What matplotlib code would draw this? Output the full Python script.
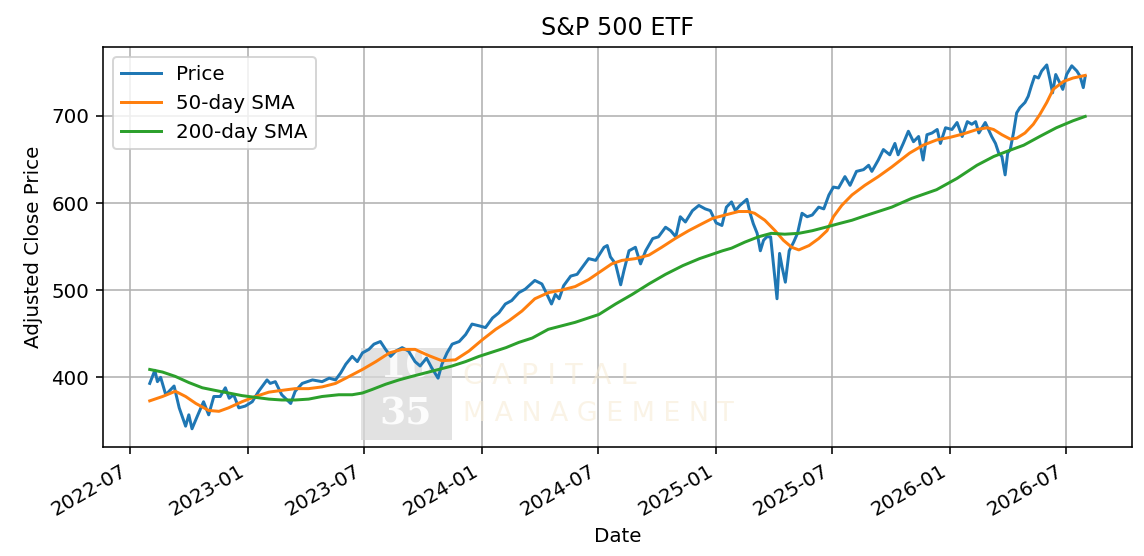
import matplotlib
matplotlib.use("Agg")
import matplotlib.pyplot as plt
import matplotlib.dates as mdates
import pandas as pd

# price (roughly every 1-2 weeks, extremes kept)
price_dates = [
    "2022-08-01", "2022-08-09", "2022-08-13", "2022-08-18", "2022-08-26", "2022-09-08",
    "2022-09-16", "2022-09-26", "2022-10-01", "2022-10-06", "2022-10-14", "2022-10-24",
    "2022-11-01", "2022-11-09", "2022-11-19", "2022-11-27", "2022-12-03", "2022-12-10",
    "2022-12-18", "2022-12-28", "2023-01-08", "2023-01-18", "2023-01-31", "2023-02-05",
    "2023-02-13", "2023-02-23", "2023-03-09", "2023-03-16", "2023-03-27", "2023-04-12",
    "2023-04-27", "2023-05-08", "2023-05-18", "2023-05-26", "2023-06-03", "2023-06-13",
    "2023-06-21", "2023-06-29", "2023-07-09", "2023-07-17", "2023-07-27", "2023-08-04",
    "2023-08-12", "2023-08-20", "2023-08-30", "2023-09-09", "2023-09-19", "2023-09-27",
    "2023-10-07", "2023-10-15", "2023-10-25", "2023-10-31", "2023-11-08", "2023-11-16",
    "2023-11-27", "2023-12-07", "2023-12-17", "2023-12-28", "2024-01-07", "2024-01-18",
    "2024-01-28", "2024-02-07", "2024-02-17", "2024-02-28", "2024-03-09", "2024-03-24",
    "2024-04-04", "2024-04-12", "2024-04-19", "2024-04-25", "2024-05-01", "2024-05-08",
    "2024-05-19", "2024-05-29", "2024-06-06", "2024-06-16", "2024-06-27", "2024-07-10",
    "2024-07-15", "2024-07-20", "2024-07-28", "2024-08-05", "2024-08-10", "2024-08-18",
    "2024-08-28", "2024-09-05", "2024-09-13", "2024-09-24", "2024-10-03", "2024-10-14",
    "2024-10-22", "2024-10-30", "2024-11-06", "2024-11-14", "2024-11-25", "2024-12-05",
    "2024-12-15", "2024-12-23", "2025-01-01", "2025-01-10", "2025-01-17", "2025-01-25",
    "2025-01-31", "2025-02-07", "2025-02-18", "2025-02-23", "2025-02-28", "2025-03-06",
    "2025-03-11", "2025-03-16", "2025-03-21", "2025-03-27", "2025-04-01", "2025-04-06",
    "2025-04-10", "2025-04-14", "2025-04-19", "2025-04-25", "2025-05-02", "2025-05-08",
    "2025-05-15", "2025-05-23", "2025-05-31", "2025-06-10", "2025-06-18", "2025-06-26",
    "2025-07-03", "2025-07-11", "2025-07-21", "2025-07-29", "2025-08-08", "2025-08-19",
    "2025-08-27", "2025-09-01", "2025-09-11", "2025-09-19", "2025-09-29", "2025-10-07",
    "2025-10-12", "2025-10-20", "2025-10-28", "2025-11-05", "2025-11-13", "2025-11-20",
    "2025-11-26", "2025-12-04", "2025-12-12", "2025-12-17", "2025-12-25", "2026-01-04",
    "2026-01-12", "2026-01-20", "2026-01-28", "2026-02-04", "2026-02-10", "2026-02-15",
    "2026-02-20", "2026-02-25", "2026-03-02", "2026-03-07", "2026-03-13", "2026-03-18",
    "2026-03-23", "2026-03-28", "2026-04-01", "2026-04-05", "2026-04-10", "2026-04-15",
    "2026-04-20", "2026-04-28", "2026-05-03", "2026-05-08", "2026-05-13", "2026-05-19",
    "2026-05-24", "2026-06-01", "2026-06-06", "2026-06-10", "2026-06-15", "2026-06-21",
    "2026-06-26", "2026-07-02", "2026-07-10", "2026-07-18", "2026-07-23", "2026-07-28",
    "2026-07-31",
]
price_values = [
    393, 408, 395, 400, 380, 390,
    365, 344, 357, 341, 355, 372,
    357, 378, 378, 388, 376, 380,
    365, 367, 372, 384, 397, 393,
    395, 380, 370, 384, 393, 397,
    395, 399, 397, 405, 415, 424,
    418, 428, 432, 438, 441, 432,
    424, 430, 434, 430, 418, 413,
    422, 411, 399, 415, 428, 438,
    441, 449, 461, 459, 457, 468,
    474, 484, 488, 497, 501, 511,
    507, 495, 484, 495, 490, 505,
    516, 518, 526, 536, 534, 549,
    551, 538, 530, 506, 522, 545,
    549, 530, 545, 559, 561, 572,
    568, 561, 584, 578, 591, 597,
    593, 591, 577, 574, 595, 601,
    591, 597, 604, 588, 576, 565,
    545, 557, 561, 561, 526, 490,
    542, 526, 509, 545, 555, 565,
    588, 584, 586, 595, 593, 609,
    618, 617, 630, 620, 636, 638,
    643, 636, 649, 661, 655, 668,
    655, 668, 682, 670, 676, 649,
    678, 680, 684, 668, 686, 684,
    692, 676, 693, 690, 693, 680,
    686, 692, 684, 676, 668, 657,
    653, 632, 657, 661, 680, 703,
    709, 715, 722, 734, 745, 743,
    751, 758, 741, 726, 747, 738,
    730, 747, 757, 751, 745, 732,
    745,
]

sma50_dates = [
    "2022-08-01", "2022-08-21", "2022-09-10", "2022-09-26", "2022-10-12", "2022-11-01",
    "2022-11-17", "2022-12-02", "2022-12-23", "2023-01-13", "2023-02-03", "2023-02-23",
    "2023-03-16", "2023-04-06", "2023-04-27", "2023-05-18", "2023-06-03", "2023-06-29",
    "2023-07-20", "2023-08-10", "2023-08-30", "2023-09-19", "2023-10-10", "2023-10-31",
    "2023-11-21", "2023-12-12", "2024-01-02", "2024-01-23", "2024-02-13", "2024-03-04",
    "2024-03-24", "2024-04-14", "2024-05-05", "2024-05-26", "2024-06-16", "2024-07-06",
    "2024-07-22", "2024-08-07", "2024-08-28", "2024-09-18", "2024-10-08", "2024-10-29",
    "2024-11-19", "2024-12-10", "2024-12-26", "2025-01-15", "2025-02-05", "2025-02-20",
    "2025-03-02", "2025-03-18", "2025-04-03", "2025-04-16", "2025-04-29", "2025-05-10",
    "2025-05-26", "2025-06-10", "2025-06-23", "2025-07-03", "2025-07-16", "2025-08-01",
    "2025-08-21", "2025-09-11", "2025-10-02", "2025-10-30", "2025-11-20", "2025-12-11",
    "2026-01-01", "2026-01-22", "2026-02-12", "2026-02-28", "2026-03-10", "2026-03-23",
    "2026-04-05", "2026-04-15", "2026-04-28", "2026-05-11", "2026-05-21", "2026-06-01",
    "2026-06-11", "2026-06-27", "2026-07-12", "2026-07-31",
]
sma50_values = [
    373, 378, 384, 378, 370, 362,
    361, 365, 372, 378, 383, 385,
    387, 387, 389, 393, 399, 409,
    418, 428, 432, 432, 425, 419,
    420, 430, 443, 455, 465, 476,
    490, 497, 500, 504, 512, 522,
    530, 534, 536, 540, 549, 559,
    568, 576, 582, 586, 590, 590,
    588, 580, 568, 557, 549, 546,
    551, 559, 568, 584, 597, 609,
    620, 630, 641, 657, 666, 672,
    675, 679, 684, 686, 684, 678,
    673, 674, 680, 690, 701, 715,
    730, 739, 743, 746,
]

sma200_dates = [
    "2022-08-01", "2022-08-21", "2022-09-10", "2022-10-01", "2022-10-22", "2022-11-11",
    "2022-12-02", "2022-12-23", "2023-01-13", "2023-02-03", "2023-02-23", "2023-03-16",
    "2023-04-06", "2023-04-27", "2023-05-23", "2023-06-13", "2023-06-29", "2023-07-14",
    "2023-08-04", "2023-08-25", "2023-09-14", "2023-10-05", "2023-10-26", "2023-11-16",
    "2023-12-07", "2023-12-28", "2024-01-18", "2024-02-08", "2024-02-28", "2024-03-20",
    "2024-04-14", "2024-05-26", "2024-07-02", "2024-07-28", "2024-08-23", "2024-09-18",
    "2024-10-14", "2024-11-10", "2024-12-06", "2025-01-11", "2025-01-25", "2025-02-15",
    "2025-03-08", "2025-03-28", "2025-04-18", "2025-05-10", "2025-05-31", "2025-06-21",
    "2025-07-11", "2025-08-01", "2025-08-21", "2025-09-11", "2025-10-02", "2025-11-02",
    "2025-12-11", "2026-01-12", "2026-02-12", "2026-03-10", "2026-03-31", "2026-04-26",
    "2026-05-21", "2026-06-16", "2026-07-12", "2026-07-31",
]
sma200_values = [
    409, 406, 401, 394, 388, 385,
    382, 379, 377, 375, 374, 374,
    375, 378, 380, 380, 382, 386,
    392, 397, 401, 405, 409, 413,
    418, 424, 429, 434, 440, 445,
    455, 463, 472, 484, 495, 507,
    518, 528, 536, 545, 548, 555,
    561, 565, 564, 565, 568, 572,
    576, 580, 585, 590, 595, 605,
    615, 628, 643, 653, 659, 666,
    676, 686, 694, 699,
]

fig, ax = plt.subplots(figsize=(8, 3.89), dpi=143)
fig.subplots_adjust(left=0.090, right=0.9895, top=0.9155, bottom=0.196)

ax.plot(pd.to_datetime(price_dates), price_values, label="Price", zorder=3)
ax.plot(pd.to_datetime(sma50_dates), sma50_values, label="50-day SMA", zorder=3)
ax.plot(pd.to_datetime(sma200_dates), sma200_values, label="200-day SMA", zorder=3)

ax.set_title("S&P 500 ETF")
ax.set_xlabel("Date")
ax.set_ylabel("Adjusted Close Price")
ax.grid(True)
ax.legend(loc="upper left")

ax.xaxis.set_major_locator(mdates.MonthLocator(bymonth=[1, 7]))
ax.xaxis.set_major_formatter(mdates.DateFormatter("%Y-%m"))
for lbl in ax.get_xticklabels():
    lbl.set_rotation(30)
    lbl.set_ha("right")

# faint watermark, kept under the lines
ax.add_patch(plt.Rectangle((361 / 1144, 1 - 440 / 556), 91 / 1144, 92 / 556,
                           transform=fig.transFigure, facecolor="#d9d9d9",
                           alpha=0.75, edgecolor="none", zorder=2.5, clip_on=False))
ax.text(406 / 1144, 1 - 366 / 556, "10", transform=fig.transFigure, ha="center",
        va="center", color="white", family="DejaVu Serif", fontweight="bold",
        fontsize=19, alpha=0.85, zorder=2.6)
ax.text(406 / 1144, 1 - 414 / 556, "35", transform=fig.transFigure, ha="center",
        va="center", color="white", family="DejaVu Serif", fontweight="bold",
        fontsize=19, alpha=0.9, zorder=2.6)
ax.text(463 / 1144, 1 - 376 / 556, "C A P I T A L", transform=fig.transFigure,
        ha="left", va="center", color="#f7ecd6", fontsize=14.5, alpha=0.6, zorder=2.6)
ax.text(463 / 1144, 1 - 414 / 556, "M A N A G E M E N T", transform=fig.transFigure,
        ha="left", va="center", color="#f7ecd6", fontsize=13.5, alpha=0.6, zorder=2.6)

fig.savefig("out.png", dpi=143)
